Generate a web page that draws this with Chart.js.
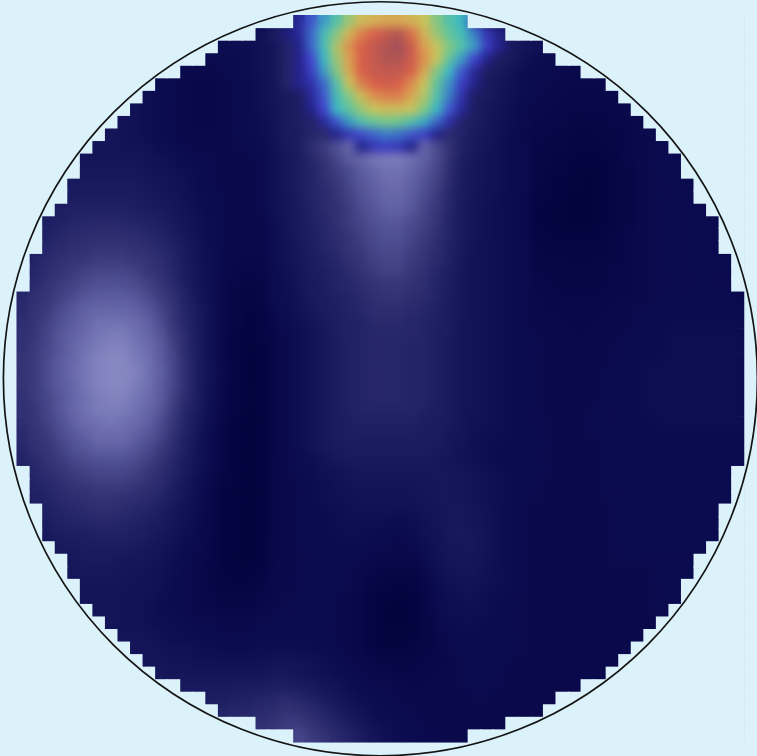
<!DOCTYPE html>
<html>
<head>
<meta charset="utf-8">
<title>Heat map</title>
<script src="https://cdn.jsdelivr.net/npm/chart.js@4"></script>
<style>
  html, body { margin: 0; padding: 0; background: #dcf2fa; }
  canvas { display: block; }
</style>
</head>
<body>
<canvas id="heat" width="757" height="756"></canvas>
<script>
// first masked-in column of each row, the right side mirrors it
const rowStart = [22,19,16,15,13,11,10,9,8,7,6,5,5,4,4,3,2,2,2,1,1,1,
  0,0,0,0,0,0,0,0,0,0,0,0,0,0,
  1,1,1,2,2,2,3,4,4,5,5,6,7,8,9,10,11,13,15,16,19,22];

// value -> colour, the jump at 41/42 is where the overlay starts
const stopValues = [0,8,16,24,32,41,42,48,53,58,66,74,82,90,100];
const stopColors = ['#02023c','#0b0b50','#1d1d62','#363678','#6060a4','#9092ca',
  '#1c1c7c','#4444d0','#3c70c8','#3cb8c4','#6cc890','#c8c45c','#dca050','#d8604a','#a05058'];

const heatRows = [
[8,8,8,8,8,8,8,8,8,8,8,8,8,8,8,8,8,8,8,8,10,16,44,50,56,62,70,76,78,80,80,78,74,68,62,58,46,16,12,8,8,8,8,8,8,8,8,8,8,8,8,8,8,8,8,8,8,8],
[9,9,9,9,9,9,9,9,9,9,9,9,9,9,9,9,9,9,9,10,16,42,44,52,60,68,78,86,90,94,96,88,78,70,64,60,54,46,43,16,12,10,8,8,8,8,8,8,8,8,8,8,8,8,8,8,8,8],
[9,9,9,9,9,9,9,9,9,9,9,9,9,9,9,9,9,9,9,10,12,18,43,52,60,72,84,90,94,97,100,92,82,74,68,62,56,47,43,14,12,10,9,8,8,8,8,8,8,8,8,8,8,8,8,8,8,8],
[10,10,10,10,10,10,10,10,10,10,9,8,8,7,7,7,7,8,9,10,12,18,43,48,58,70,82,90,94,97,97,92,84,74,64,56,48,43,16,14,10,9,8,7,7,7,7,7,7,7,7,7,7,7,7,7,7,7],
[10,10,10,10,10,10,10,10,10,10,9,8,7,6,6,6,7,8,9,10,12,18,43,47,56,68,80,90,93,94,94,90,80,68,58,50,44,16,14,11,9,8,7,7,6,6,6,6,7,7,7,7,7,7,7,7,7,7],
[11,11,11,11,11,11,11,11,11,11,9,8,7,6,5,5,6,7,8,10,12,18,43,45,52,62,74,86,90,92,90,84,74,64,55,47,43,14,12,10,8,7,7,6,6,6,6,6,7,7,7,7,7,7,7,7,7,7],
[11,11,11,11,11,11,11,11,10,10,9,8,7,6,5,5,6,7,8,10,12,14,16,44,50,60,68,76,84,86,86,80,72,62,54,45,16,15,12,10,8,7,6,6,5,5,5,6,6,7,7,7,7,7,7,7,7,7],
[12,12,12,12,12,12,12,12,11,10,9,8,7,6,5,5,6,7,8,10,11,14,16,43,48,58,64,70,74,76,76,74,68,58,50,44,16,13,11,9,7,6,6,5,5,5,5,5,6,7,7,7,7,7,7,7,7,7],
[12,12,13,13,13,13,12,12,11,10,9,8,7,6,5,5,6,7,8,9,11,14,16,18,44,50,56,62,65,67,66,62,57,52,45,18,16,13,11,9,7,6,5,5,4,4,4,5,5,6,7,7,7,7,7,7,7,7],
[13,13,13,13,13,13,13,12,11,10,9,8,7,6,6,6,6,7,8,9,11,14,15,19,20,43,46,49,52,54,53,50,47,43,20,18,14,13,10,8,6,5,5,4,4,3,4,4,5,6,7,7,7,7,7,7,7,7],
[11,11,12,12,12,12,12,12,11,11,10,9,8,7,6,6,6,7,7,8,10,14,16,21,25,29,33,43,46,47,46,43,33,28,23,17,14,12,10,8,7,5,4,4,3,3,3,4,5,6,7,7,7,7,7,7,7,7],
[11,12,12,12,12,12,12,12,12,12,11,10,9,8,7,7,6,6,7,7,10,13,15,19,23,27,31,33,36,37,37,35,32,28,22,16,13,11,10,8,7,4,4,3,3,2,3,3,5,6,7,7,7,7,7,7,7,7],
[12,12,13,13,13,13,13,13,13,13,12,11,10,9,8,7,6,6,6,7,10,13,15,18,22,25,28,31,33,35,35,33,30,27,21,15,13,11,10,8,7,4,3,3,2,2,2,3,4,6,7,7,7,7,7,7,7,7],
[12,13,13,14,14,14,14,14,14,14,13,12,11,10,8,7,6,6,6,7,10,13,15,18,21,24,27,30,32,34,34,32,29,26,20,15,13,11,10,8,7,4,3,2,2,1,2,3,4,6,7,7,7,7,7,7,7,7],
[13,13,14,15,15,15,15,15,15,15,14,13,12,10,9,8,7,6,6,7,10,12,15,18,20,23,26,29,31,33,33,31,28,25,19,15,12,11,9,8,7,3,3,2,1,1,2,3,4,6,7,7,7,7,7,7,7,7],
[13,14,15,16,17,17,17,17,17,16,15,14,13,11,9,8,7,6,6,7,10,12,14,17,20,22,25,28,30,32,32,30,27,24,19,14,12,10,9,8,7,3,2,2,1,1,2,3,4,6,7,7,7,7,7,7,7,7],
[14,15,16,17,18,19,19,19,19,18,17,16,14,12,10,8,7,6,6,6,9,12,14,17,19,22,25,27,29,30,30,28,26,23,18,14,12,10,9,8,7,3,2,2,1,1,2,3,4,6,7,7,7,7,7,7,7,7],
[14,16,17,19,20,20,21,21,21,20,19,18,15,13,10,8,7,6,6,6,9,11,14,16,19,21,24,26,28,29,29,27,25,22,18,14,12,10,9,8,7,3,3,2,2,2,3,4,5,6,7,7,7,7,7,7,7,7],
[15,17,19,20,21,22,23,23,23,22,21,19,17,14,11,9,7,6,6,6,9,11,13,16,18,20,23,25,27,28,28,26,24,21,17,14,11,10,9,8,7,4,3,3,3,3,3,4,5,6,7,7,7,7,7,7,7,7],
[16,18,20,22,23,24,25,25,25,24,23,21,18,14,11,9,7,6,5,5,9,11,13,15,17,19,22,24,26,27,27,25,23,20,17,13,11,10,9,8,7,4,4,4,3,3,4,4,5,6,7,7,7,7,7,7,7,7],
[17,19,21,23,25,26,27,27,27,26,24,22,19,15,12,9,7,5,5,5,8,10,12,15,16,18,20,23,25,26,26,24,22,19,16,13,11,10,9,8,7,5,4,4,4,4,4,5,5,6,7,7,7,7,7,7,7,7],
[18,20,23,25,26,28,29,29,29,28,26,24,20,16,12,9,6,5,4,4,8,9,12,14,16,18,19,21,23,24,24,23,21,18,16,13,11,10,9,8,7,5,5,4,4,4,4,5,5,6,7,7,7,7,7,7,7,7],
[19,22,24,26,28,30,31,31,31,30,28,25,22,17,13,9,6,4,3,4,8,9,11,14,15,17,18,20,22,23,23,21,20,18,15,13,11,10,9,8,7,6,5,5,5,5,5,5,6,6,7,7,7,7,7,7,7,7],
[20,23,25,28,30,32,33,33,33,32,30,27,23,18,14,10,6,4,3,3,7,9,11,13,15,16,18,19,21,21,21,20,19,17,15,13,11,10,9,8,7,6,6,5,5,5,5,6,6,7,7,8,8,8,8,8,8,8],
[21,24,26,29,31,33,35,35,35,34,32,28,24,19,14,10,6,4,2,3,6,8,10,12,14,16,17,18,20,20,20,19,18,17,15,12,11,10,9,8,7,6,6,6,5,5,6,6,6,7,7,8,8,8,8,8,8,8],
[22,24,27,30,32,34,36,37,37,35,33,30,25,20,14,10,6,3,2,3,5,7,9,11,13,16,17,18,19,19,19,19,18,16,15,12,11,10,9,8,7,7,6,6,6,6,6,6,7,7,8,8,9,9,9,9,9,9],
[22,25,27,30,33,35,37,38,38,36,34,31,26,20,15,10,6,3,2,2,5,7,9,11,13,15,17,18,19,19,19,18,18,16,14,12,11,10,9,8,7,7,6,6,6,6,6,7,7,7,8,8,9,9,9,9,9,9],
[23,25,28,31,33,36,38,39,39,37,35,31,27,21,15,10,6,3,1,2,5,7,9,11,13,15,17,18,19,19,19,18,18,16,14,12,11,10,9,8,7,7,6,6,6,6,6,7,7,8,8,9,9,9,9,9,9,9],
[23,25,28,31,34,36,38,39,39,38,35,32,27,21,15,11,6,3,1,2,5,7,9,11,13,15,17,18,19,19,19,18,18,16,14,12,11,10,9,8,7,7,6,6,6,6,7,7,8,8,9,9,9,9,9,9,9,9],
[23,25,28,31,33,36,38,39,39,37,35,31,27,21,15,10,6,3,1,2,5,7,9,11,13,15,17,18,19,19,19,18,18,16,14,12,11,10,9,8,7,7,6,6,6,6,7,7,8,8,9,9,9,9,9,9,9,9],
[22,25,27,30,33,35,37,38,38,36,34,31,26,20,15,10,6,3,2,2,5,7,9,11,13,15,17,18,19,19,19,18,18,16,14,12,11,10,9,8,7,7,6,6,6,6,7,7,8,8,9,9,9,9,9,9,9,9],
[22,24,27,30,33,35,37,37,37,35,33,30,25,19,14,9,5,3,1,2,5,7,9,11,13,15,17,18,18,18,18,18,17,16,14,12,11,10,9,8,7,7,6,6,6,7,7,7,8,8,9,9,9,9,9,9,9,9],
[21,24,26,29,32,34,35,36,35,34,32,28,24,18,13,9,5,2,1,2,5,7,9,11,13,15,16,17,17,17,17,17,16,15,14,12,10,10,9,8,7,7,7,6,6,7,7,7,8,8,8,9,9,9,9,9,9,9],
[20,23,25,28,30,32,34,34,34,32,30,27,22,17,12,8,4,2,1,2,5,7,9,11,13,15,16,16,16,16,16,16,15,15,13,12,10,9,9,8,7,7,7,6,6,7,7,7,7,8,8,8,8,8,8,8,8,8],
[19,22,24,26,29,30,32,32,32,30,28,25,21,16,11,7,4,2,1,2,5,7,9,11,13,14,15,15,15,15,15,15,15,14,13,11,10,9,8,8,7,7,7,6,6,6,7,7,7,8,8,8,8,8,8,8,8,8],
[18,20,23,25,27,28,29,29,29,28,26,23,19,15,11,7,4,2,1,2,5,6,8,9,11,13,14,14,14,14,14,14,14,13,12,11,10,9,8,7,7,7,7,6,6,6,7,7,7,8,8,8,8,8,8,8,8,8],
[17,19,21,23,25,26,27,27,27,26,24,21,18,14,10,7,4,2,1,2,5,6,8,9,10,11,12,13,13,13,13,13,13,13,13,12,11,10,9,8,7,7,7,6,6,6,7,7,7,8,8,8,8,8,8,8,8,8],
[16,18,19,21,23,24,25,25,25,24,22,20,16,13,9,6,3,2,1,2,5,6,7,8,9,10,11,12,12,12,12,12,12,13,13,12,11,10,9,8,7,7,6,6,6,6,7,7,7,8,8,8,8,8,8,8,8,8],
[15,17,18,20,21,22,23,23,22,21,20,18,15,12,9,6,3,2,1,2,5,6,7,8,9,10,10,11,11,11,11,11,12,13,13,12,11,10,9,8,7,7,6,6,6,6,7,7,7,8,8,8,8,8,8,8,8,8],
[14,15,17,18,19,20,21,21,20,19,18,16,13,11,8,5,3,2,1,2,5,6,7,8,8,9,10,10,10,10,10,10,11,12,13,13,12,11,9,8,7,6,6,6,6,6,6,7,7,8,8,8,8,8,8,8,8,8],
[13,14,15,17,18,18,19,19,18,17,16,15,12,10,8,5,3,2,1,2,5,6,7,8,8,9,9,9,9,9,8,9,10,12,13,13,12,11,9,8,7,6,6,6,6,6,6,7,7,8,8,8,8,8,8,8,8,8],
[12,13,14,15,16,16,17,17,17,16,15,13,11,9,7,5,3,2,1,2,5,6,7,8,8,8,9,9,8,7,7,8,10,11,13,14,13,11,9,8,7,6,6,6,6,6,6,7,7,7,8,8,8,8,8,8,8,8],
[12,12,13,14,14,15,15,15,15,14,13,12,10,8,7,5,3,2,1,2,6,6,7,7,8,8,8,8,7,7,6,7,9,11,12,13,13,11,9,8,7,6,6,6,6,6,6,7,7,7,7,7,7,7,7,7,7,7],
[11,12,12,13,13,14,14,14,13,13,12,11,9,8,6,5,3,2,1,2,6,6,7,7,7,7,8,7,6,6,6,5,8,10,12,13,12,11,9,8,7,6,6,6,6,6,6,7,7,7,7,7,7,7,7,7,7,7],
[11,11,12,12,13,13,13,13,12,12,11,10,9,7,6,4,3,2,2,3,6,6,7,7,7,7,7,6,5,4,4,4,6,9,11,12,12,10,9,8,7,6,6,6,6,6,6,6,6,6,7,7,7,7,7,7,7,7],
[11,11,11,12,12,12,12,12,12,11,11,10,8,7,6,5,3,3,3,4,6,6,7,7,7,7,7,6,4,3,3,3,5,8,10,11,11,10,9,8,7,6,6,6,6,6,6,6,6,6,7,7,7,7,7,7,7,7],
[11,11,11,12,12,12,12,12,11,11,10,9,8,7,6,5,4,4,4,5,6,7,7,7,7,7,6,5,3,2,1,2,4,7,9,10,10,9,8,7,7,6,6,6,6,6,6,6,6,6,7,7,7,7,7,7,7,7],
[11,11,11,11,12,12,12,12,11,11,10,9,8,7,6,6,5,5,5,6,7,7,7,7,7,7,6,5,3,1,1,2,4,7,9,9,9,9,8,7,7,6,6,6,6,6,6,6,6,6,7,7,7,7,7,7,7,7],
[11,11,11,11,12,12,12,12,11,11,10,9,9,8,7,7,6,6,6,7,7,7,8,7,7,7,6,5,3,1,1,2,4,6,8,9,9,8,8,7,7,6,6,6,6,6,6,6,6,6,6,6,6,6,6,6,6,6],
[11,11,11,11,12,12,12,12,12,12,11,10,9,9,8,8,7,7,7,8,8,8,8,8,7,7,6,5,3,2,2,2,4,6,7,8,8,8,7,7,7,6,6,6,6,6,6,6,6,6,6,6,6,6,6,6,6,6],
[11,11,11,11,12,12,12,12,12,12,12,11,10,10,9,9,8,8,8,9,9,9,9,8,8,7,6,5,3,2,2,3,4,5,7,7,8,7,7,7,7,6,6,6,6,6,6,6,6,6,6,6,6,6,6,6,6,6],
[11,11,11,12,12,12,12,12,12,12,12,12,11,11,10,10,10,10,10,10,11,11,11,10,9,8,7,6,5,4,4,4,5,5,6,7,7,7,7,7,6,6,6,6,6,6,6,6,6,6,6,6,6,6,6,6,6,6],
[11,11,12,12,12,12,12,12,12,13,13,13,12,12,12,12,12,12,12,12,13,13,12,11,10,9,8,7,6,6,5,5,5,6,6,7,7,7,7,6,6,6,6,6,6,6,6,6,6,6,6,6,6,6,6,6,6,6],
[12,12,12,12,12,12,13,13,13,13,13,14,14,14,14,14,14,15,15,15,16,16,15,14,12,11,9,8,7,7,6,6,6,6,6,7,7,7,7,6,6,6,6,6,6,6,6,6,6,6,6,6,6,6,6,6,6,6],
[12,12,12,12,13,13,13,13,14,14,14,14,14,15,15,16,16,17,17,18,19,20,19,17,15,13,11,9,8,7,7,6,6,6,6,6,7,7,6,6,6,6,6,6,6,6,6,6,6,6,6,6,6,6,6,6,6,6],
[12,12,13,13,13,14,14,14,14,14,15,15,16,16,17,17,18,19,19,20,21,23,22,20,18,15,13,11,9,8,7,7,6,6,6,6,6,6,6,6,6,6,6,6,6,6,6,6,6,6,6,6,6,6,6,6,6,6],
[13,13,13,13,14,14,14,15,15,15,15,16,16,17,18,18,19,20,21,22,23,25,25,23,20,18,15,13,10,9,8,7,7,6,6,6,6,6,6,6,6,7,7,7,7,7,7,7,7,7,6,6,6,6,6,6,6,6],
[13,13,14,14,14,14,15,15,15,16,16,17,17,18,19,20,21,22,23,23,24,26,27,25,23,20,18,15,12,10,9,8,7,7,6,6,6,6,6,6,6,7,7,7,7,7,7,7,7,7,6,6,6,6,6,6,6,6]
];

const gridSize = 58;
const circleCentre = 29;
const circleRadius = 377;

const hexToRgb = (hex) => [1, 3, 5].map((i) => parseInt(hex.slice(i, i + 2), 16));

const colorFor = (value) => {
  let i = 0;
  while (i < stopValues.length - 2 && value > stopValues[i + 1]) i++;
  const t = Math.max(0, Math.min(1, (value - stopValues[i]) / (stopValues[i + 1] - stopValues[i])));
  const a = hexToRgb(stopColors[i]);
  const b = hexToRgb(stopColors[i + 1]);
  const rgb = a.map((v, k) => Math.round(v + (b[k] - v) * t));
  return `rgb(${rgb[0]},${rgb[1]},${rgb[2]})`;
};

const heatPoints = [];
const maskPoints = [];
heatRows.forEach((row, r) => {
  if (row.length !== gridSize) console.error('row length', r, row.length);
  row.forEach((value, c) => {
    heatPoints.push({ x: c + 0.5, y: r + 0.5, v: value });
    if (c < rowStart[r] || c >= gridSize - rowStart[r]) {
      maskPoints.push({ x: c + 0.5, y: r + 0.5 });
    }
  });
});

// size of one cell as a rect point radius, with some overlap to hide seams
const cellRadius = (overlap) => (ctx) => {
  const area = ctx.chart.chartArea;
  if (!area) return 0;
  return (area.width / gridSize + overlap) * Math.SQRT1_2;
};

// smooths the heat cells before the mask goes on top
const smoothHeat = {
  id: 'smoothHeat',
  afterDatasetDraw(chart, args) {
    if (args.index !== 2) return;
    const { ctx, canvas, chartArea } = chart;
    ctx.save();
    ctx.beginPath();
    ctx.rect(chartArea.left, chartArea.top, chartArea.width, chartArea.height);
    ctx.clip();
    ctx.filter = 'blur(5px)';
    ctx.drawImage(canvas, 0, 0);
    ctx.restore();
  },
};

new Chart(document.getElementById('heat').getContext('2d'), {
  type: 'scatter',
  data: {
    datasets: [
      {
        label: 'outline',
        data: [{ x: circleCentre, y: circleCentre }],
        pointStyle: 'circle',
        pointRadius: circleRadius,
        pointBackgroundColor: 'rgba(0,0,0,0)',
        pointBorderColor: '#141414',
        pointBorderWidth: 1.7,
        clip: false,
      },
      {
        label: 'mask',
        data: maskPoints,
        pointStyle: 'rect',
        pointRadius: cellRadius(1.2),
        pointBackgroundColor: '#dcf2fa',
        pointBorderWidth: 0,
        clip: false,
      },
      {
        label: 'heat',
        data: heatPoints,
        pointStyle: 'rect',
        pointRadius: cellRadius(0.4),
        pointBackgroundColor: (ctx) => colorFor(ctx.raw ? ctx.raw.v : 0),
        pointBorderWidth: 0,
      },
    ],
  },
  options: {
    responsive: false,
    animation: false,
    events: [],
    layout: { autoPadding: false, padding: { left: 16.5, right: 12.7, top: 15, bottom: 13.5 } },
    plugins: { legend: { display: false }, tooltip: { enabled: false } },
    scales: {
      x: { type: 'linear', min: 0, max: gridSize, display: false },
      y: { type: 'linear', min: 0, max: gridSize, reverse: true, display: false },
    },
  },
  plugins: [smoothHeat],
});
</script>
</body>
</html>
